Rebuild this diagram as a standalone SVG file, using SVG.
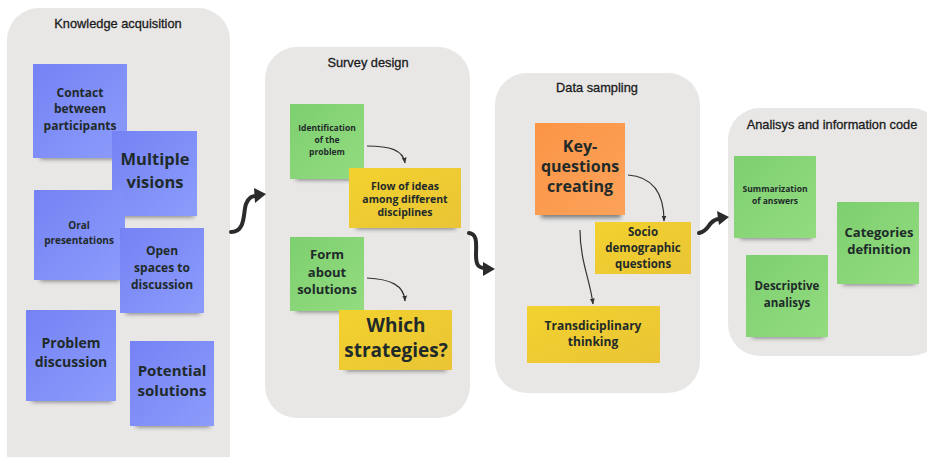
<svg xmlns="http://www.w3.org/2000/svg" width="927" height="457" viewBox="0 0 927 457">
<defs>
<linearGradient id="gBlue" x1="0" y1="0" x2="1" y2="1"><stop offset="0" stop-color="#7582f4"/><stop offset="1" stop-color="#8c9cfb"/></linearGradient>
<linearGradient id="gGreen" x1="0" y1="0" x2="1" y2="1"><stop offset="0" stop-color="#7dcf6f"/><stop offset="1" stop-color="#93dc80"/></linearGradient>
<linearGradient id="gYellow" x1="0" y1="0" x2="1" y2="1"><stop offset="0" stop-color="#f2d22e"/><stop offset="1" stop-color="#eac436"/></linearGradient>
<linearGradient id="gOrange" x1="0" y1="0" x2="1" y2="1"><stop offset="0" stop-color="#fb9546"/><stop offset="1" stop-color="#fca259"/></linearGradient>
<filter id="blur" x="-20%" y="-100%" width="140%" height="300%"><feGaussianBlur stdDeviation="2.2"/></filter>
<marker id="thin" viewBox="0 0 10 10" refX="9" refY="5" markerWidth="5" markerHeight="5" orient="auto"><path d="M0,1 L10,5 L0,9 z" fill="#333"/></marker>
</defs>
<style>
.panel{fill:#e8e7e6}
.title{font-family:"Liberation Sans",Arial,sans-serif;font-size:12.8px;fill:#1a1a1a;stroke:#1a1a1a;stroke-width:0.3;text-anchor:middle}
.t{font-family:"Open Sans","Noto Sans",sans-serif;font-weight:bold;fill:#1f2a2a;text-anchor:middle}
.sh{fill:#2a2a2a;opacity:0.55;filter:url(#blur)}
.blue{fill:url(#gBlue)}
.green{fill:url(#gGreen)}
.yellow{fill:url(#gYellow)}
.orange{fill:url(#gOrange)}
.thin{fill:none;stroke:#333;stroke-width:1.2;marker-end:url(#thin)}
.thick{fill:none;stroke:#2b2b2b;stroke-width:4;stroke-linecap:round}
.head{fill:#2b2b2b}
</style>
<rect width="927" height="457" fill="#ffffff"/>

<g id="panel-knowledge">
<rect class="panel" x="7" y="8" width="223" height="480" rx="32"/>
<text class="title" x="118" y="28">Knowledge acquisition</text>
</g>
<g id="panel-survey">
<rect class="panel" x="265" y="47" width="205" height="371" rx="32"/>
<text class="title" x="368" y="67">Survey design</text>
</g>
<g id="panel-data">
<rect class="panel" x="495" y="73" width="205" height="320" rx="32"/>
<text class="title" x="597" y="92">Data sampling</text>
</g>
<g id="panel-analysis">
<rect class="panel" x="728" y="108" width="215" height="248" rx="32"/>
<text class="title" x="832" y="129">Analisys and information code</text>
</g>

<g id="n-contact">
<rect class="sh" x="40" y="153" width="82" height="6"/>
<rect class="blue" x="33" y="64" width="94" height="94"/>
<text class="t" font-size="12"><tspan x="80" y="97">Contact</tspan><tspan x="80" y="113">between</tspan><tspan x="80" y="130">participants</tspan></text>
</g>
<g id="n-multiple">
<rect class="sh" x="118" y="211" width="76" height="6"/>
<rect class="blue" x="112" y="131" width="85" height="85"/>
<text class="t" font-size="16.5"><tspan x="155" y="165">Multiple</tspan><tspan x="155" y="188">visions</tspan></text>
</g>
<g id="n-oral">
<rect class="sh" x="40" y="275" width="80" height="6"/>
<rect class="blue" x="34" y="190" width="91" height="90"/>
<text class="t" font-size="10"><tspan x="79" y="229">Oral</tspan><tspan x="79" y="244">presentations</tspan></text>
</g>
<g id="n-open">
<rect class="sh" x="126" y="308" width="74" height="6"/>
<rect class="blue" x="120" y="228" width="84" height="85"/>
<text class="t" font-size="12"><tspan x="162" y="255">Open</tspan><tspan x="162" y="272">spaces to</tspan><tspan x="162" y="289">discussion</tspan></text>
</g>
<g id="n-problem">
<rect class="sh" x="32" y="396" width="80" height="6"/>
<rect class="blue" x="26" y="310" width="90" height="91"/>
<text class="t" font-size="14"><tspan x="71" y="348">Problem</tspan><tspan x="71" y="367">discussion</tspan></text>
</g>
<g id="n-potential">
<rect class="sh" x="136" y="421" width="74" height="6"/>
<rect class="blue" x="130" y="341" width="84" height="85"/>
<text class="t" font-size="15"><tspan x="172" y="376">Potential</tspan><tspan x="172" y="396">solutions</tspan></text>
</g>

<g id="n-identification">
<rect class="sh" x="296" y="174" width="64" height="6"/>
<rect class="green" x="290" y="104" width="74" height="75"/>
<text class="t" font-size="8.5"><tspan x="327" y="131">Identification</tspan><tspan x="327" y="143">of the</tspan><tspan x="327" y="155">problem</tspan></text>
</g>
<g id="n-flow">
<rect class="sh" x="356" y="223" width="100" height="6"/>
<rect class="yellow" x="349" y="168" width="112" height="60"/>
<text class="t" font-size="10.5"><tspan x="405" y="190">Flow of ideas</tspan><tspan x="405" y="203">among different</tspan><tspan x="405" y="216">disciplines</tspan></text>
</g>
<g id="n-form">
<rect class="sh" x="296" y="306" width="64" height="6"/>
<rect class="green" x="290" y="237" width="74" height="74"/>
<text class="t" font-size="13"><tspan x="327" y="259">Form</tspan><tspan x="327" y="277">about</tspan><tspan x="327" y="294">solutions</tspan></text>
</g>
<g id="n-which">
<rect class="sh" x="346" y="365" width="100" height="6"/>
<rect class="yellow" x="339" y="310" width="113" height="60"/>
<text class="t" font-size="19"><tspan x="396" y="332">Which</tspan><tspan x="396" y="357">strategies?</tspan></text>
</g>

<g id="n-key">
<rect class="sh" x="541" y="210" width="80" height="8"/>
<rect class="orange" x="535" y="123" width="90" height="92"/>
<text class="t" font-size="16"><tspan x="580" y="152">Key-</tspan><tspan x="580" y="172">questions</tspan><tspan x="580" y="192">creating</tspan></text>
</g>
<g id="n-socio">
<rect class="yellow" x="595" y="222" width="96" height="52"/>
<text class="t" font-size="11.5"><tspan x="643" y="236">Socio</tspan><tspan x="643" y="252">demographic</tspan><tspan x="643" y="268">questions</tspan></text>
</g>
<g id="n-trans">
<rect class="yellow" x="527" y="306" width="133" height="57"/>
<text class="t" font-size="12"><tspan x="593" y="330">Transdiciplinary</tspan><tspan x="593" y="346">thinking</tspan></text>
</g>

<g id="n-summarization">
<rect class="sh" x="740" y="233" width="72" height="6"/>
<rect class="green" x="734" y="156" width="82" height="82"/>
<text class="t" font-size="8.5"><tspan x="775" y="192">Summarization</tspan><tspan x="775" y="204">of answers</tspan></text>
</g>
<g id="n-descriptive">
<rect class="sh" x="752" y="332" width="72" height="6"/>
<rect class="green" x="746" y="255" width="82" height="82"/>
<text class="t" font-size="11.5"><tspan x="787" y="290">Descriptive</tspan><tspan x="787" y="307">analisys</tspan></text>
</g>
<g id="n-categories">
<rect class="sh" x="843" y="279" width="72" height="6"/>
<rect class="green" x="837" y="202" width="82" height="82"/>
<text class="t" font-size="13"><tspan x="879" y="237">Categories</tspan><tspan x="879" y="254">definition</tspan></text>
</g>

<g id="connectors">
<path class="thin" d="M367,146 C390,146 403,150 405,163"/>
<path class="thin" d="M367,278 C390,279 404,285 405,301"/>
<path class="thin" d="M628,175 C655,177 664,195 664,221"/>
<path class="thin" d="M580,230 C580,260 590,280 593,304"/>
<path class="thick" d="M231,232 C246,232 243,212 246,204 C249,197 252,196 256,196"/>
<polygon class="head" points="266,194 254,188 255,203"/>
<path class="thick" d="M469,233 C478,234 476,245 476,255 C476,266 479,268 485,268"/>
<polygon class="head" points="495,269 483,262 483,276"/>
<path class="thick" d="M699,233 C707,231 708,226 711,223 C714,220 716,219 719,219"/>
<polygon class="head" points="729,217 717,211 719,225"/>
</g>
</svg>
